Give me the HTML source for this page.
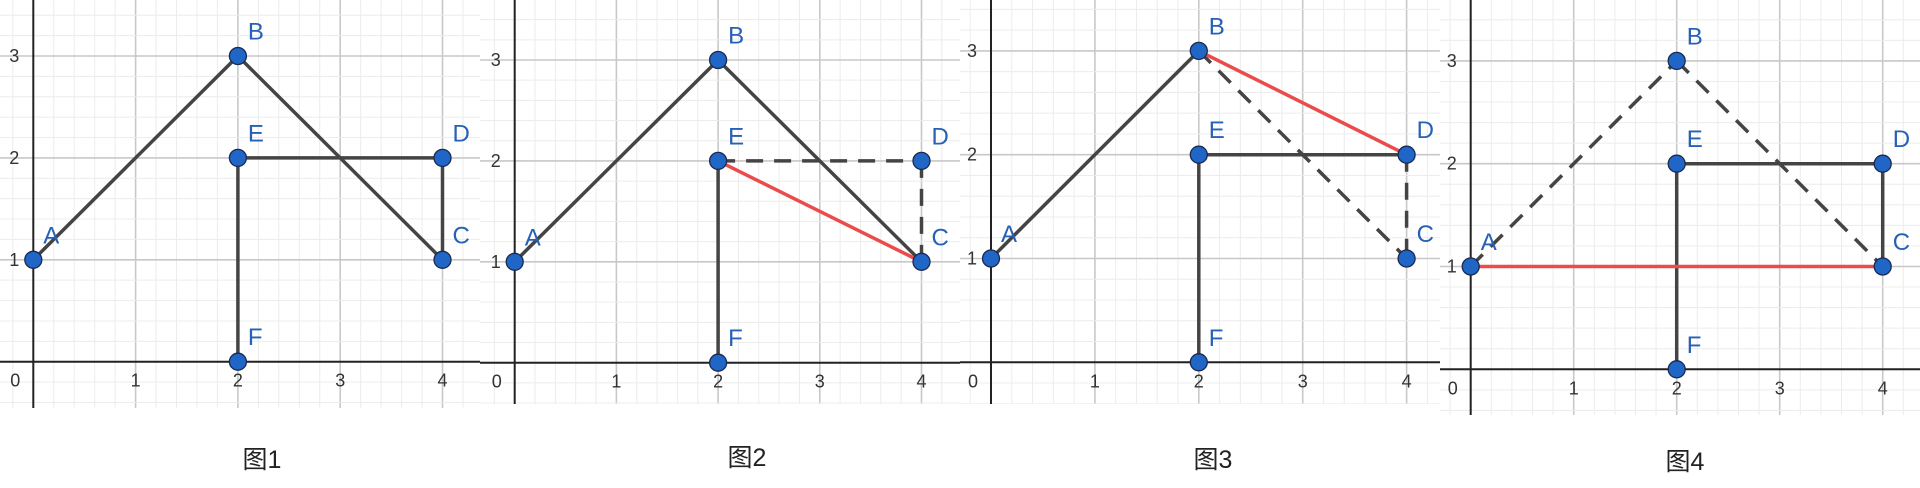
<!DOCTYPE html>
<html><head><meta charset="utf-8"><style>
html,body{margin:0;padding:0;background:#fff;width:1920px;height:488px;overflow:hidden;}
svg{display:block;}
</style></head><body>
<svg id="chart" width="1920" height="488" xmlns="http://www.w3.org/2000/svg" style="overflow:hidden"></svg>
<script>
const pointNames = ["A","B","C","D","E","F"];
const pointX = [0,2,4,4,2,2];
const pointY = [1,3,1,2,2,0];
const xTicks = [1,2,3,4];
const yTicks = [1,2,3];
const captions = ["图1","图2","图3","图4"];
const seg1 = [["A","B","s"],["B","C","s"],["E","D","s"],["D","C","s"],["E","F","s"]];
const seg2 = [["A","B","s"],["B","C","s"],["E","F","s"],["E","D","d"],["D","C","d"],["E","C","r"]];
const seg3 = [["A","B","s"],["B","C","d"],["E","D","s"],["D","C","d"],["E","F","s"],["B","D","r"]];
const seg4 = [["A","B","d"],["B","C","d"],["E","D","s"],["D","C","s"],["E","F","s"],["A","C","r"]];
const segs = [seg1,seg2,seg3,seg4];

const panels = [
 {x0:0,ox:33.3,oy:361.7,ux:102.3,uy:101.9,bot:408,cx:262,cy:460},
 {x0:480,ox:514.7,oy:362.7,ux:101.7,uy:100.9,bot:404,cx:747,cy:458},
 {x0:960,ox:991,oy:362.3,ux:103.9,uy:103.8,bot:404,cx:1213,cy:460},
 {x0:1440,ox:1470.7,oy:369.3,ux:103,uy:102.8,bot:415,cx:1685,cy:462}
];
const NS="http://www.w3.org/2000/svg";
const svg=document.getElementById('chart');
function mk(tag,attrs,parent){const e=document.createElementNS(NS,tag);for(const k in attrs)e.setAttribute(k,attrs[k]);parent.appendChild(e);return e;}
const defs=mk('defs',{},svg);
panels.forEach((p,i)=>{
  const cp=mk('clipPath',{id:'cp'+i},defs);
  mk('rect',{x:p.x0,y:0,width:480,height:p.bot},cp);
});
panels.forEach((p,i)=>{
  const sx=v=>p.ox+v*p.ux, sy=v=>p.oy-v*p.uy;
  const g=mk('g',{'clip-path':'url(#cp'+i+')'},svg);
  
  
  const gridG=mk('g',{},g);
  
  
  const xmin=Math.floor((p.x0-p.ox)/p.ux)-1, xmax=Math.ceil((p.x0+480-p.ox)/p.ux)+1;
  const ymin=Math.floor((p.oy-p.bot)/p.uy)-1, ymax=Math.ceil(p.oy/p.uy)+1;
  for(let k=xmin*5;k<=xmax*5;k++){const X=sx(k/5);mk('line',{x1:X,y1:0,x2:X,y2:p.bot,stroke:k%5==0?'#c8c8c8':'#ececec','stroke-width':k%5==0?1.6:1},gridG);}
  for(let k=ymin*5;k<=ymax*5;k++){const Y=sy(k/5);mk('line',{x1:p.x0,y1:Y,x2:p.x0+480,y2:Y,stroke:k%5==0?'#c8c8c8':'#ececec','stroke-width':k%5==0?1.6:1},gridG);}
  const xa=mk('line',{x1:p.x0,y1:p.oy,x2:p.x0+480,y2:p.oy,stroke:'#222','stroke-width':2},g);
  
  
  const ya=mk('line',{x1:p.ox,y1:0,x2:p.ox,y2:p.bot,stroke:'#222','stroke-width':2},g);
  
  
  const tx=(s,x,y,a)=>{const t=mk('text',{x:x,y:y,'font-family':'Liberation Sans, sans-serif','font-size':18,fill:'#333','text-anchor':a||'middle','dominant-baseline':'central'},g);t.textContent=s;return t;};
  const z=tx('0',p.ox-18,p.oy+19);
  
  
  xTicks.forEach(v=>{const t=tx(String(v),sx(v),p.oy+19);
    
    });
  yTicks.forEach(v=>{const t=tx(String(v),p.ox-19,sy(v));
    
    });
  const P=n=>{const j=pointNames.indexOf(n);return [sx(pointX[j]),sy(pointY[j])];};
  const order=segs[i].filter(s=>s[2]!=='r').concat(segs[i].filter(s=>s[2]==='r'));
  order.forEach(s=>{const a=P(s[0]),b=P(s[1]);
    const at={x1:a[0],y1:a[1],x2:b[0],y2:b[1],stroke:s[2]==='r'?'#ec4b4b':'#444','stroke-width':3.5};
    if(s[2]==='d')at['stroke-dasharray']='17 11';
    const l=mk('line',at,g);
    
    });
  pointNames.forEach((n,j)=>{const X=sx(pointX[j]),Y=sy(pointY[j]);
    const c=mk('circle',{cx:X,cy:Y,r:8.5,fill:'#1f66c6',stroke:'#1a2a50','stroke-width':1.3},g);
    
    
    const t=mk('text',{x:X+10,y:Y-24,'font-family':'Liberation Sans, sans-serif','font-size':24,fill:'#2761b5','dominant-baseline':'central'},g);
    t.textContent=n;
    
    });
  const cap=mk('text',{x:p.cx,y:p.cy,'font-family':'Liberation Sans, Noto Sans CJK SC, sans-serif','font-size':25,fill:'#222','text-anchor':'middle','dominant-baseline':'central'},svg);
  cap.textContent=captions[i];
  
  
});
</script>
</body></html>
